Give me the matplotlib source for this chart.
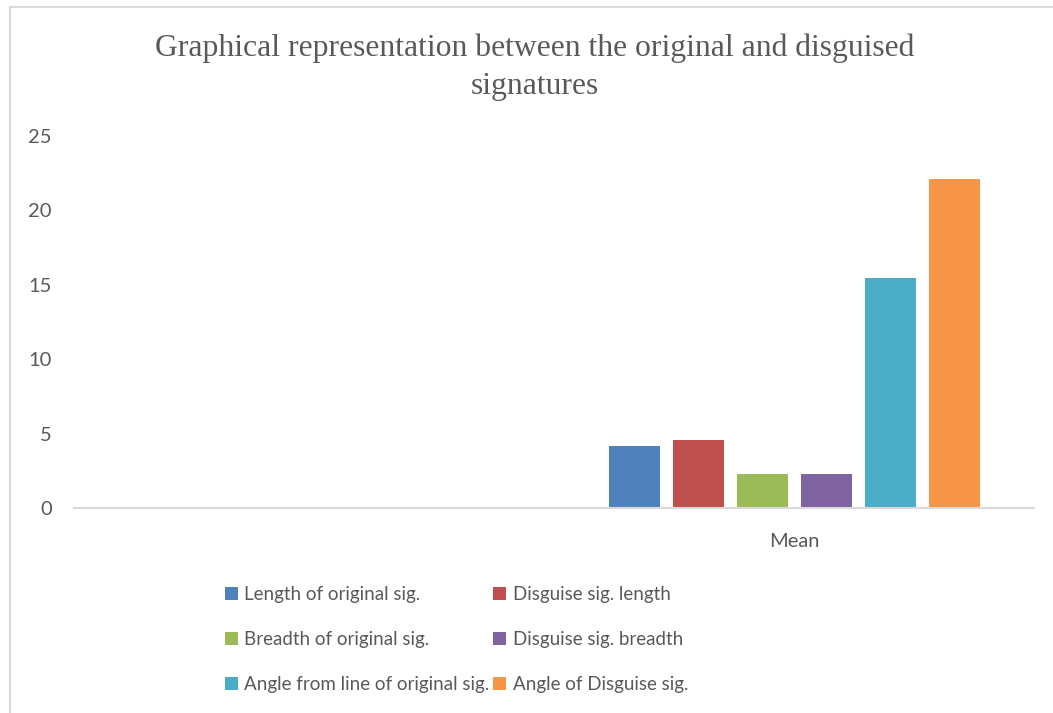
import numpy as np
import matplotlib as mpl
mpl.use('Agg')
import matplotlib.pyplot as plt
from matplotlib.patches import Rectangle

# data
categories = ['', 'Mean']
series_names = ['Length of original sig.', 'Disguise sig. length',
                'Breadth of original sig.', 'Disguise sig. breadth',
                'Angle from line of original sig.', 'Angle of Disguise sig.']
series_colors = ['#4F81BD', '#C0504D', '#9BBB59', '#8064A2', '#4BACC6', '#F79646']
mean_values = [4.17, 4.57, 2.3, 2.3, 15.46, 22.1]
yticks = [0, 5, 10, 15, 20, 25]

plt.rcParams['font.family'] = ['Lato', 'DejaVu Sans']
txt_color = '#595959'

fig = plt.figure(figsize=(10.53, 7.13), dpi=100)
ax = fig.add_axes([0.0703, 0.2875, 0.912, 0.5218])

x = np.arange(len(categories))
width = 0.106
step = 0.1333
handles = []
for i, (name, col, v) in enumerate(zip(series_names, series_colors, mean_values)):
    vals = [np.nan, v]  # first category is empty
    b = ax.bar(x + (i - 2.5) * step, vals, width, color=col, label=name)
    handles.append(b)

ax.set_xlim(-0.5, 1.5)
ax.set_ylim(0, 25)
ax.set_yticks(yticks)
ax.set_xticks(x)
ax.set_xticklabels(categories)
ax.tick_params(axis='both', length=0, labelsize=14.5, colors=txt_color)
ax.tick_params(axis='y', pad=16)
ax.tick_params(axis='x', pad=18)
for s in ['top', 'right', 'left']:
    ax.spines[s].set_visible(False)
ax.spines['bottom'].set_color('#d9d9d9')
ax.spines['bottom'].set_linewidth(1.5)

fig.text(0.508, 0.932, 'Graphical representation between the original and disguised',
         family='Liberation Serif', fontsize=22.8, color=txt_color, ha='center', va='center')
fig.text(0.508, 0.878, 'signatures',
         family='Liberation Serif', fontsize=22.8, color=txt_color, ha='center', va='center')

# legend, row-wise order
order = [0, 2, 4, 1, 3, 5]
leg = fig.legend([handles[k] for k in order], [series_names[k] for k in order],
                 ncol=2, loc='upper left', bbox_to_anchor=(0.2045, 0.191),
                 frameon=False, fontsize=13.5, handlelength=0.7, handleheight=0.7,
                 handletextpad=0.35, columnspacing=0.2, labelspacing=1.5,
                 borderpad=0, labelcolor=txt_color)

# chart frame (partially cropped in the reference)
fig.patches.append(Rectangle((0.0095, -0.1), 1.2, 1.09, transform=fig.transFigure,
                             fill=False, edgecolor='#d9d9d9', linewidth=1.5))

plt.savefig('out.png', dpi=100)
